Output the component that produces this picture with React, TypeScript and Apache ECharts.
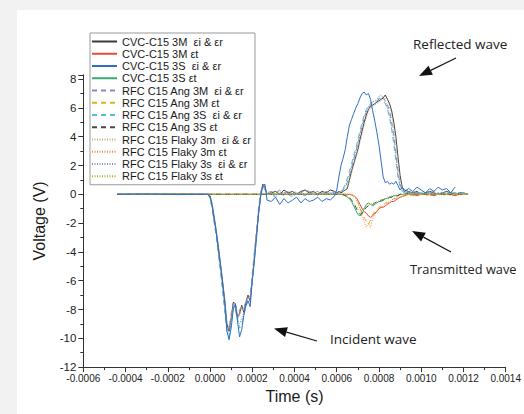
import React, { useEffect, useRef } from "react";
import * as echarts from "echarts";

// Sample times (microseconds) for incident/reflected signals
const timeIrUs = [
  -440, -300, -150, -20,
  -10, 0, 10, 20, 30, 40, 50, 60, 70, 80, 90, 100, 110, 120, 130, 140, 150, 160, 170, 180, 190, 200, 210, 220, 230, 240, 250, 260, 270,
  290, 310, 330, 350, 370, 390, 410, 430, 450, 470, 490, 510, 530, 550, 570, 590,
  600, 610, 620, 630, 640, 650, 660, 670, 680, 690, 700, 710, 720, 730, 740, 750, 760, 770, 780, 790, 800, 810, 820, 830, 840, 850, 860, 870, 880, 890, 900, 910, 920,
  940, 960, 980, 1000, 1020, 1040, 1060, 1080, 1100, 1120, 1140, 1160, 1180, 1200, 1220,
];

// Sample times (microseconds) for transmitted signals
const timeTUs = [
  -440, -300, -150, 0, 150, 300, 450, 580,
  600, 610, 620, 630, 640, 650, 660, 670, 680, 690, 700, 710, 720, 730, 740, 750, 760, 770, 780, 790, 800, 810, 820, 830, 840, 850, 860, 870, 880, 890, 900,
  920, 940, 960, 980, 1000, 1020, 1040, 1060, 1080, 1100, 1120, 1140, 1160, 1180, 1200, 1220,
];

// Voltage (V) — incident & reflected
const cvc3M_ir = [
  0, 0, 0.02, 0,
  0.0, -0.1, -0.7, -1.6, -2.6, -3.7, -4.9, -6.1, -7.4, -9.0, -9.5, -8.6, -7.5, -7.6, -8.5, -8.3, -7.7, -8.2, -7.5, -7.0, -7.4, -5.9, -4.4, -2.8, -1.2, 0.0, 0.7, 0.5, 0.0,
  0.1, 0.2, 0.0, 0.3, 0.1, 0.2, 0.0, 0.2, 0.3, 0.1, 0.2, 0.0, 0.2, 0.1, 0.3, 0.2,
  0.1, 0.2, 0.1, 0.2, 0.3, 0.4, 1.0, 1.6, 2.1, 2.6, 3.1, 3.8, 4.4, 5.0, 5.5, 5.9, 6.1, 6.2, 6.3, 6.4, 6.5, 6.6, 6.7, 6.9, 6.6, 6.3, 5.8, 5.0, 4.0, 2.6, 1.3, 0.5, 0.3,
  0.2, 0.1, 0.2, 0.0, 0.1, 0.2, 0.1, 0.0, 0.1, 0.2, 0.1, 0.0, 0.1, 0.1, 0.0,
];
const cvc3S_ir = [
  0, 0.02, -0.02, 0,
  0.0, -0.2, -0.8, -1.8, -2.7, -3.9, -5.0, -6.3, -7.6, -9.5, -10.1, -9.3, -8.0, -7.6, -8.8, -9.9, -9.4, -8.4, -7.7, -7.4, -7.8, -6.0, -4.6, -3.0, -1.3, -0.1, 0.6, 0.7, -0.4,
  -0.5, -0.2, -0.7, -0.3, -0.6, -0.4, -0.2, -0.6, -0.3, -0.5, -0.4, -0.2, -0.5, -0.3, -0.4, -0.1,
  0.3, 1.2, 2.0, 2.5, 3.1, 4.0, 4.8, 5.2, 5.6, 6.0, 6.3, 6.7, 7.0, 7.1, 6.9, 7.0, 6.6, 5.8, 5.1, 4.3, 3.4, 2.3, 1.2, 0.8, 0.9, 0.7, 0.8, 0.7, 0.9, 0.6, 0.3, 0.5, 0.2,
  0.4, 0.2, 0.5, 0.3, 0.1, 0.4, 0.2, 0.5, 0.3, 0.4, 0.1, 0.5, null, null, null,
];
const ang3M_ir = [
  0, 0, 0, 0,
  0.0, -0.2, -0.9, -1.9, -2.9, -4.1, -5.3, -6.6, -7.9, -9.2, -9.4, -8.3, -7.6, -8.0, -8.7, -8.0, -7.9, -8.0, -7.3, -7.2, -7.0, -5.5, -4.0, -2.4, -0.9, 0.2, 0.6, 0.3, 0.1,
  0.2, 0.1, 0.3, 0.1, 0.2, 0.0, 0.2, 0.1, 0.3, 0.2, 0.1, 0.2, 0.0, 0.2, 0.2, 0.1,
  0.1, 0.1, 0.2, 0.3, 0.5, 0.8, 1.3, 1.8, 2.4, 2.9, 3.5, 4.1, 4.7, 5.3, 5.7, 6.0, 6.2, 6.3, 6.4, 6.5, 6.6, 6.8, 6.7, 6.5, 6.2, 5.8, 5.0, 4.1, 2.9, 1.6, 0.7, 0.3, 0.2,
  0.1, 0.2, 0.1, 0.0, 0.1, 0.1, 0.2, 0.0, 0.1, 0.1, 0.0, 0.1, 0.0, 0.1, 0.0,
];
const ang3S_ir = [
  0, 0, 0, 0,
  0.0, -0.3, -1.0, -2.0, -3.0, -4.2, -5.4, -6.8, -8.2, -9.6, -9.9, -9.0, -7.9, -7.7, -8.6, -9.3, -9.0, -8.3, -7.9, -7.3, -7.5, -6.1, -4.6, -3.1, -1.4, -0.2, 0.5, 0.6, 0.0,
  0.0, -0.2, 0.1, -0.1, 0.0, -0.2, 0.1, 0.0, -0.1, 0.1, 0.0, -0.1, 0.1, 0.0, 0.1, 0.0,
  0.0, 0.1, 0.2, 0.4, 0.7, 1.1, 1.6, 2.1, 2.7, 3.2, 3.8, 4.4, 5.0, 5.5, 5.9, 6.1, 6.3, 6.4, 6.5, 6.6, 6.7, 6.6, 6.5, 6.3, 5.9, 5.3, 4.5, 3.5, 2.3, 1.2, 0.5, 0.2, 0.1,
  0.2, 0.0, 0.1, 0.1, 0.0, 0.2, 0.1, 0.0, 0.1, 0.0, 0.1, 0.1, 0.0, 0.1, 0.0,
];
const flaky3m_ir = [
  0, 0, 0, 0,
  0.0, -0.1, -0.6, -1.5, -2.5, -3.6, -4.8, -6.0, -7.3, -8.8, -9.3, -8.7, -7.7, -7.5, -8.3, -8.5, -7.8, -8.1, -7.6, -7.1, -7.3, -5.8, -4.3, -2.7, -1.1, 0.1, 0.6, 0.4, 0.1,
  0.1, 0.0, 0.2, 0.1, 0.0, 0.2, 0.1, 0.1, 0.0, 0.2, 0.1, 0.0, 0.1, 0.2, 0.1, 0.1,
  0.1, 0.1, 0.2, 0.2, 0.3, 0.5, 0.9, 1.4, 2.0, 2.5, 3.0, 3.6, 4.2, 4.8, 5.3, 5.7, 6.0, 6.1, 6.2, 6.3, 6.4, 6.5, 6.6, 6.7, 6.5, 6.1, 5.5, 4.6, 3.5, 2.2, 1.0, 0.4, 0.2,
  0.1, 0.1, 0.0, 0.1, 0.1, 0.0, 0.1, 0.1, 0.0, 0.1, 0.1, 0.0, 0.1, 0.1, 0.0,
];
const flaky3s_ir = [
  0, 0, 0, 0,
  0.0, -0.2, -0.9, -1.8, -2.8, -4.0, -5.2, -6.5, -7.9, -9.3, -9.7, -8.9, -7.8, -7.8, -8.7, -9.0, -8.6, -8.2, -7.7, -7.2, -7.4, -5.9, -4.5, -2.9, -1.3, -0.1, 0.6, 0.5, 0.0,
  0.1, -0.1, 0.1, 0.0, 0.1, -0.1, 0.0, 0.1, 0.0, 0.0, 0.1, -0.1, 0.1, 0.0, 0.0, 0.1,
  0.1, 0.1, 0.2, 0.3, 0.6, 0.9, 1.4, 1.9, 2.5, 3.0, 3.6, 4.2, 4.8, 5.4, 5.8, 6.1, 6.3, 6.4, 6.5, 6.6, 6.8, 6.9, 6.7, 6.4, 6.0, 5.5, 4.7, 3.8, 2.6, 1.4, 0.6, 0.3, 0.1,
  0.1, 0.0, 0.1, 0.1, 0.0, 0.1, 0.0, 0.1, 0.1, 0.0, 0.1, 0.0, 0.1, 0.0, 0.0,
];

// Voltage (V) — transmitted
const cvc3M_t = [
  0, 0, 0, 0, 0, 0, 0, 0,
  0, 0, 0, 0, 0, 0, 0, -0.05, -0.1, -0.2, -0.4, -0.7, -1.0, -1.2, -1.3, -1.5, -1.6, -1.5, -1.3, -1.2, -1.0, -0.9, -0.9, -0.8, -0.7, -0.6, -0.5, -0.5, -0.4, -0.3, -0.2,
  -0.1, 0.0, 0.0, -0.1, 0.0, 0.0, 0.0, -0.1, 0.0, 0.0, 0.0, 0.0, -0.1, 0.0, 0.0, 0.0,
];
const cvc3S_t = [
  0, 0, 0, 0, 0, 0, 0, 0,
  0.0, 0.0, 0.0, -0.05, -0.1, -0.2, -0.3, -0.5, -0.8, -1.1, -1.4, -1.5, -1.4, -1.0, -0.7, -0.6, -0.7, -0.8, -0.7, -0.6, -0.5, -0.5, -0.4, -0.3, -0.3, -0.2, -0.2, -0.1, -0.1, -0.1, 0.0,
  0.0, 0.1, 0.0, 0.1, 0.0, 0.0, 0.1, 0.0, 0.0, 0.1, 0.0, 0.0, 0.1, 0.0, 0.0, 0.0,
];
const ang3M_t = [
  0, 0, 0, 0, 0, 0, 0, 0,
  0, 0, 0, 0, 0, 0, 0, 0, -0.1, -0.2, -0.5, -0.9, -1.3, -1.6, -1.9, -2.1, -1.8, -1.4, -1.2, -1.1, -0.9, -0.8, -0.7, -0.6, -0.6, -0.5, -0.4, -0.3, -0.3, -0.2, -0.2,
  -0.1, 0.0, -0.1, 0.0, 0.0, -0.1, 0.0, 0.0, 0.0, -0.1, 0.0, 0.0, 0.0, 0.0, 0.0, 0.0,
];
const ang3S_t = [
  0, 0, 0, 0, 0, 0, 0, 0,
  0, 0, 0, 0, -0.1, -0.1, -0.2, -0.4, -0.6, -0.9, -1.2, -1.4, -1.3, -1.1, -0.9, -0.8, -0.8, -0.7, -0.6, -0.5, -0.5, -0.4, -0.4, -0.3, -0.3, -0.2, -0.2, -0.1, -0.1, -0.1, 0.0,
  0.0, 0.1, 0.0, 0.0, 0.1, 0.0, 0.0, 0.0, 0.1, 0.0, 0.0, 0.0, 0.1, 0.0, 0.0, 0.0,
];
const flaky3m_t = [
  0, 0, 0, 0, 0, 0, 0, 0,
  0, 0, 0, 0, 0, 0, 0, 0, -0.1, -0.3, -0.6, -1.0, -1.5, -1.9, -2.3, -2.0, -2.3, -1.7, -1.4, -1.2, -1.0, -0.9, -0.8, -0.7, -0.6, -0.5, -0.4, -0.3, -0.3, -0.2, -0.2,
  -0.1, 0.0, -0.1, 0.0, 0.0, 0.0, -0.1, 0.0, 0.0, 0.0, 0.0, -0.1, 0.0, 0.0, 0.0, 0.0,
];
const flaky3s_t = [
  0, 0, 0, 0, 0, 0, 0, 0,
  0, 0, 0, 0, -0.05, -0.1, -0.2, -0.4, -0.6, -0.8, -1.0, -1.2, -1.1, -0.9, -0.8, -0.7, -0.7, -0.6, -0.6, -0.5, -0.4, -0.4, -0.3, -0.3, -0.2, -0.2, -0.1, -0.1, -0.1, 0.0, 0.0,
  0.0, 0.1, 0.0, 0.0, 0.0, 0.1, 0.0, 0.0, 0.0, 0.0, 0.1, 0.0, 0.0, 0.0, 0.0, 0.0,
];

const seriesNames = [
  "CVC-C15 3M  εi & εr",
  "CVC-C15 3M εt",
  "CVC-C15 3S  εi & εr",
  "CVC-C15 3S εt",
  "RFC C15 Ang 3M  εi & εr",
  "RFC C15 Ang 3M εt",
  "RFC C15 Ang 3S  εi & εr",
  "RFC C15 Ang 3S εt",
  "RFC C15 Flaky 3m  εi & εr",
  "RFC C15 Flaky 3m εt",
  "RFC C15 Flaky 3s  εi & εr",
  "RFC C15 Flaky 3s εt",
];
const seriesValues = [
  cvc3M_ir, cvc3M_t, cvc3S_ir, cvc3S_t,
  ang3M_ir, ang3M_t, ang3S_ir, ang3S_t,
  flaky3m_ir, flaky3m_t, flaky3s_ir, flaky3s_t,
];
const seriesIsTransmitted = [false, true, false, true, false, true, false, true, false, true, false, true];
const seriesColors = [
  "#3b3b3b", "#e5483d", "#2f6fc3", "#3aa870",
  "#9185c6", "#d9b51f", "#4cc1df", "#484848",
  "#c8a774", "#e8883a", "#7f90b0", "#9cb52a",
];
const seriesDash: ("solid" | number[])[] = [
  "solid", "solid", "solid", "solid",
  [5, 4], [5, 4], [5, 4], [5, 4],
  [1, 1.5], [1, 1.5], [1, 1.5], [1, 1.5],
];

const xTickMin = -0.0006;
const xTickMax = 0.0014;
const xTickStep = 0.0002;
const yMin = -12;
const yMax = 8.3;
const yStep = 2;

const FONT = "'Liberation Sans', Arial, sans-serif";
const ANNOT_FONT = "'Open Sans', 'Liberation Sans', sans-serif";

function arrow(tip: [number, number], tail: [number, number], headLen: number, headW: number) {
  const dx = tail[0] - tip[0];
  const dy = tail[1] - tip[1];
  const L = Math.hypot(dx, dy);
  const ux = dx / L;
  const uy = dy / L;
  const bx = tip[0] + ux * headLen;
  const by = tip[1] + uy * headLen;
  const px = -uy;
  const py = ux;
  return [
    {
      type: "line",
      silent: true,
      shape: { x1: bx, y1: by, x2: tail[0], y2: tail[1] },
      style: { stroke: "#1a1a1a", lineWidth: 1.3 },
    },
    {
      type: "polygon",
      silent: true,
      shape: {
        points: [
          [tip[0], tip[1]],
          [bx + (px * headW) / 2, by + (py * headW) / 2],
          [bx - (px * headW) / 2, by - (py * headW) / 2],
        ],
      },
      style: { fill: "#111" },
    },
  ];
}

export default function App() {
  const ref = useRef<HTMLDivElement>(null);

  useEffect(() => {
    if (!ref.current) return;
    const chart = echarts.init(ref.current, null, { renderer: "svg" });

    const series = seriesNames.map((name, i) => {
      const times = seriesIsTransmitted[i] ? timeTUs : timeIrUs;
      const vals = seriesValues[i];
      return {
        type: "line",
        name,
        symbol: "none",
        showSymbol: false,
        connectNulls: false,
        data: times.map((t, k) => [t / 1e6, vals[k]]),
        lineStyle: { color: seriesColors[i], width: 1, type: seriesDash[i] },
        itemStyle: { color: seriesColors[i] },
        z: i === 2 ? 3 : 2,
      };
    });

    const option: any = {
      animation: false,
      backgroundColor: "#f2f2f2",
      grid: { left: 83.3, right: 12.3, top: 74.8, bottom: 46.9, containLabel: false },
      legend: {
        data: seriesNames,
        orient: "vertical",
        left: 90,
        top: 33,
        padding: [3, 4, 3, 1],
        itemWidth: 25,
        itemHeight: 8,
        itemGap: 1.25,
        borderColor: "#9a9a9a",
        borderWidth: 1,
        backgroundColor: "#ffffff",
        itemStyle: { opacity: 0 },
        textStyle: { fontFamily: FONT, fontSize: 11, color: "#1a1a1a" },
        selectedMode: false,
      },
      xAxis: {
        type: "value",
        min: xTickMin,
        max: xTickMax,
        interval: xTickStep,
        name: "Time (s)",
        nameLocation: "middle",
        nameGap: 21,
        nameTextStyle: { fontFamily: FONT, fontSize: 16, color: "#1a1a1a" },
        axisLine: { onZero: false, lineStyle: { color: "#333", width: 1 } },
        axisTick: { length: 5, lineStyle: { color: "#333" } },
        minorTick: { show: true, splitNumber: 2, length: 3, lineStyle: { color: "#333" } },
        splitLine: { show: false },
        axisLabel: {
          fontFamily: FONT,
          fontSize: 10,
          color: "#222",
          margin: 6,
          formatter: (v: number) => (Math.abs(v) < 1e-12 ? "0.0000" : v.toFixed(4)),
        },
      },
      yAxis: {
        type: "value",
        min: yMin,
        max: yMax,
        interval: yStep,
        name: "Voltage (V)",
        nameLocation: "middle",
        nameGap: 36,
        nameTextStyle: { fontFamily: FONT, fontSize: 16, color: "#1a1a1a" },
        axisLine: { onZero: false, lineStyle: { color: "#333", width: 1 } },
        axisTick: { length: 5, lineStyle: { color: "#333" } },
        minorTick: { show: true, splitNumber: 2, length: 3, lineStyle: { color: "#333" } },
        splitLine: { show: false },
        axisLabel: {
          fontFamily: FONT,
          fontSize: 11.5,
          color: "#222",
          margin: 7,
          formatter: (v: number) => (Math.abs(v % 2) < 1e-9 ? String(v) : ""),
        },
      },
      graphic: [
        {
          type: "rect",
          silent: true,
          z: -100,
          shape: { x: 17, y: 10, width: 507, height: 404 },
          style: { fill: "#ffffff" },
        },
        {
          type: "text",
          silent: true,
          left: 413,
          top: 37,
          style: { text: "Reflected wave", font: `13.5px ${ANNOT_FONT}`, fill: "#222" },
        },
        {
          type: "text",
          silent: true,
          left: 410,
          top: 262,
          style: { text: "Transmitted wave", font: `12.8px ${ANNOT_FONT}`, fill: "#222" },
        },
        {
          type: "text",
          silent: true,
          left: 330,
          top: 332,
          style: { text: "Incident wave", font: `13.5px ${ANNOT_FONT}`, fill: "#222" },
        },
        ...arrow([419, 76], [456, 58], 13, 10),
        ...arrow([412, 231], [451, 252], 13, 10),
        ...arrow([274, 328.5], [317, 341], 13, 10),
      ],
      series,
    };

    chart.setOption(option);
    return () => chart.dispose();
  }, []);

  return (
    <div
      ref={ref}
      style={{ position: "absolute", left: 0, top: 0, width: 524, height: 414 }}
    />
  );
}
